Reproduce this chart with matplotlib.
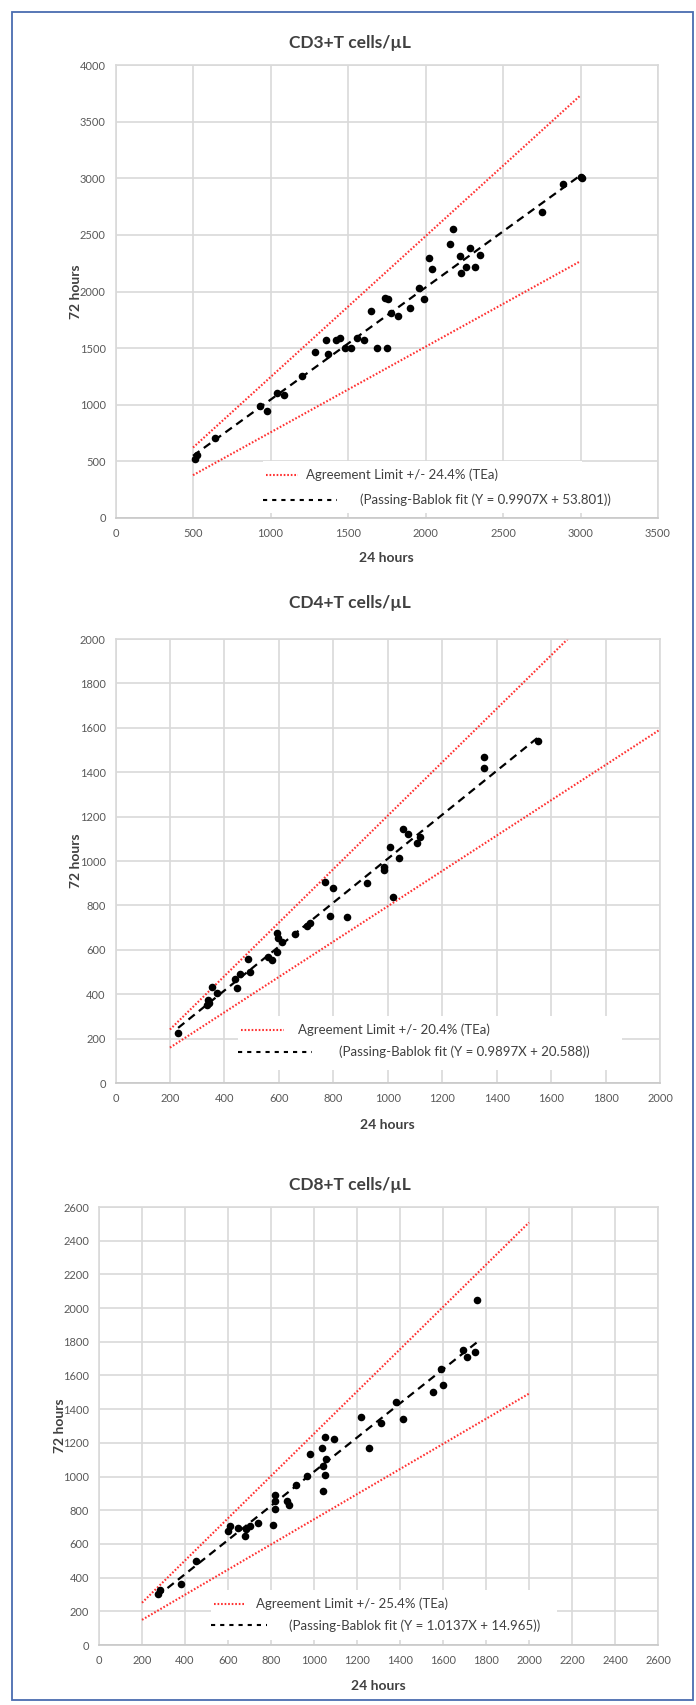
import matplotlib
matplotlib.use("Agg")
import matplotlib.pyplot as plt
from matplotlib.patches import Rectangle
import numpy as np

plt.rcParams['font.family'] = ['Lato', 'DejaVu Sans']

# ---------------- DATA ----------------
# CD3+ T cells/uL (24 h vs 72 h)
cd3_x = [515, 525, 640, 930, 980, 1040, 1090, 1200, 1290, 1360, 1370, 1420, 1450,
         1480, 1520, 1560, 1600, 1650, 1690, 1740, 1750, 1760, 1780, 1820, 1900,
         1960, 1990, 2020, 2040, 2160, 2180, 2220, 2230, 2260, 2290, 2320, 2350,
         2750, 2890, 3000, 3010]
cd3_y = [525, 560, 705, 990, 945, 1100, 1085, 1250, 1470, 1570, 1450, 1570, 1590,
         1500, 1500, 1590, 1570, 1830, 1500, 1940, 1500, 1930, 1810, 1780, 1850,
         2030, 1930, 2300, 2200, 2420, 2550, 2310, 2160, 2220, 2380, 2220, 2320,
         2700, 2945, 3010, 3000]
cd3_tea = 0.244
cd3_fit = (0.9907, 53.801)
cd3_limit_x = [500, 3000]
cd3_fit_x = [500, 3000]

# CD4+ T cells/uL
cd4_x = [230, 337, 345, 341, 353, 372, 439, 445, 457, 488, 494, 561, 574, 592, 592,
         598, 610, 660, 702, 715, 770, 788, 798, 849, 923, 986, 986, 1009, 1021,
         1043, 1057, 1076, 1109, 1119, 1354, 1354, 1553]
cd4_y = [225, 351, 360, 374, 431, 407, 467, 427, 491, 557, 501, 569, 554, 591, 674,
         652, 636, 670, 707, 722, 907, 752, 880, 749, 902, 959, 974, 1062, 839,
         1012, 1143, 1120, 1080, 1110, 1418, 1467, 1542]
cd4_tea = 0.204
cd4_fit = (0.9897, 20.588)
cd4_limit_x = [200, 2000]
cd4_fit_x = [230, 1555]

# CD8+ T cells/uL
cd8_x = [275, 285, 380, 450, 600, 608, 647, 680, 683, 701, 740, 807, 817, 817, 817,
         874, 883, 915, 967, 980, 1038, 1044, 1044, 1049, 1049, 1057, 1091, 1219,
         1258, 1312, 1382, 1416, 1552, 1591, 1598, 1691, 1710, 1750, 1758]
cd8_y = [305, 325, 365, 500, 674, 704, 694, 649, 688, 704, 724, 710, 808, 853, 893,
         853, 833, 952, 1002, 1131, 1167, 913, 1061, 1008, 1236, 1107, 1220, 1355,
         1167, 1320, 1442, 1339, 1504, 1641, 1544, 1752, 1712, 1740, 2050]
cd8_tea = 0.254
cd8_fit = (1.0137, 14.965)
cd8_limit_x = [200, 2000]
cd8_fit_x = [270, 1760]

titles = ["CD3+T cells/\u00b5L", "CD4+T cells/\u00b5L", "CD8+T cells/\u00b5L"]
x_label = "24 hours"
y_label = "72 hours"

# ---------------- FIGURE ----------------
W, H = 696, 1705
fig = plt.figure(figsize=(W / 100, H / 100), dpi=100)

TXT = '#404040'
TICK = '#595959'
GRID = '#d9d9d9'
RED = '#ff3030'
RED_DASH = (0.8, 0.9)


def add_ax(left, right, top, bottom):
    return fig.add_axes([left / W, 1 - bottom / H, (right - left) / W, (bottom - top) / H])


def red_line(ax, x, y, **kw):
    ax.plot(x, y, color=RED, lw=1.5, dashes=RED_DASH, dash_capstyle='butt', **kw)


def panel(box, xs, ys, tea, fit, limit_x, fit_x, xmax, xstep, ymax, ystep,
          title, title_y, xlabel_y, ylabel_x, leg):
    left, right, top, bottom = box
    ax = add_ax(left, right, top, bottom)
    ax.set_xlim(0, xmax)
    ax.set_ylim(0, ymax)
    ax.set_xticks(np.arange(0, xmax + 1, xstep))
    ax.set_yticks(np.arange(0, ymax + 1, ystep))
    ax.grid(True, color=GRID, lw=1.2)
    ax.set_axisbelow(True)
    for s in ax.spines.values():
        s.set_color(GRID)
        s.set_linewidth(1.2)
    ax.spines['bottom'].set_color('#c8c8c8')
    ax.tick_params(length=0, labelsize=8, labelcolor=TICK, pad=7)

    lx = np.array(limit_x, dtype=float)
    red_line(ax, lx, (1 + tea) * lx, zorder=2)
    red_line(ax, lx, (1 - tea) * lx, zorder=2)
    fx = np.array(fit_x, dtype=float)
    ax.plot(fx, fit[0] * fx + fit[1], color='black', lw=1.6, dashes=(3.6, 2.4), zorder=3)
    ax.scatter(xs, ys, s=30, color='black', linewidths=0, zorder=4)

    # legend (manual, Excel-like)
    bx0, bx1, by0, by1, rs0, rs1, rt, ry, ds0, ds1, dt, dy = leg
    ax.add_patch(Rectangle((bx0, by0), bx1 - bx0, by1 - by0, transform=ax.transAxes,
                           facecolor='white', edgecolor='none', zorder=2.5))
    red_line(ax, [rs0, rs1], [ry, ry], transform=ax.transAxes, zorder=5)
    ax.text(rt, ry, "Agreement Limit +/- %.1f%% (TEa)" % (tea * 100), transform=ax.transAxes,
            ha='left', va='center', fontsize=9.5, color=TXT, zorder=5)
    ax.plot([ds0, ds1], [dy, dy], transform=ax.transAxes, color='black', lw=1.5,
            dashes=(2.0, 2.4), zorder=5)
    ax.text(dt, dy, "(Passing-Bablok fit (Y = %.4fX + %.3f))" % fit,
            transform=ax.transAxes, ha='left', va='center', fontsize=9.5, color=TXT, zorder=5)

    fig.text(350 / W, 1 - title_y / H, title, ha='center', va='center',
             fontsize=12.5, fontweight='bold', color=TXT)
    fig.text((left + right) / 2 / W, 1 - xlabel_y / H, x_label, ha='center', va='center',
             fontsize=10, fontweight='bold', color=TXT)
    fig.text(ylabel_x / W, 1 - (top + bottom) / 2 / H, y_label, ha='center', va='center',
             rotation=90, fontsize=10, fontweight='bold', color=TXT)
    return ax


panel((115.5, 658, 65, 518), cd3_x, cd3_y, cd3_tea, cd3_fit, cd3_limit_x, cd3_fit_x,
      3500, 500, 4000, 500, titles[0], 43, 558, 76,
      (0.272, 0.86, 0.012, 0.125, 0.278, 0.336, 0.351, 0.095, 0.272, 0.408, 0.451, 0.040))

panel((115.5, 660, 639, 1083), cd4_x, cd4_y, cd4_tea, cd4_fit, cd4_limit_x, cd4_fit_x,
      2000, 200, 2000, 200, titles[1], 603, 1125, 76,
      (0.225, 0.93, 0.03, 0.15, 0.23, 0.31, 0.335, 0.12, 0.225, 0.36, 0.41, 0.07))

panel((99, 658, 1207, 1645), cd8_x, cd8_y, cd8_tea, cd8_fit, cd8_limit_x, cd8_fit_x,
      2600, 200, 2600, 200, titles[2], 1185, 1686, 60,
      (0.2, 0.82, 0.012, 0.125, 0.205, 0.26, 0.28, 0.094, 0.2, 0.3, 0.34, 0.045))

# outer blue frame
fig.patches.append(Rectangle((12 / W, 1 - 1700 / H), (693 - 12) / W, (1700 - 12) / H,
                             transform=fig.transFigure, facecolor='none',
                             edgecolor='#4a6cb0', lw=1.3))

fig.savefig("out.png", dpi=100, facecolor='white')
